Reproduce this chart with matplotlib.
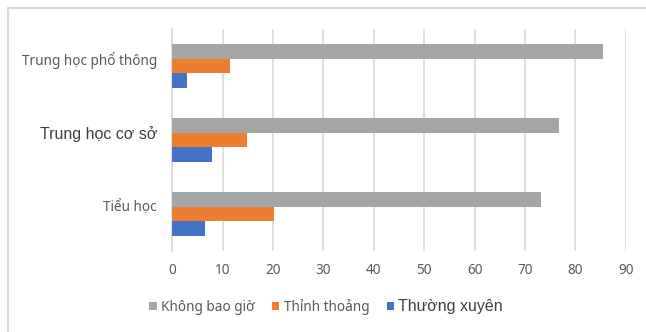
import numpy as np
import matplotlib
matplotlib.use("Agg")
import matplotlib.pyplot as plt
from matplotlib.patches import Rectangle

# data
categories = ["Tiểu học", "Trung học cơ sở", "Trung học phổ thông"]
series_names = ["Không bao giờ", "Thỉnh thoảng", "Thường xuyên"]
khong_bao_gio = [73.1, 76.7, 85.4]
thinh_thoang = [20.2, 14.9, 11.4]
thuong_xuyen = [6.4, 7.9, 3.0]
xticks = list(range(0, 100, 10))

colors = ["#A5A5A5", "#ED7D31", "#4472C4"]
text_color = "#595959"
base_font = ["Noto Sans", "DejaVu Sans"]
arial_font = ["Liberation Sans", "DejaVu Sans"]

fig = plt.figure(figsize=(6.46, 3.32), dpi=100)
ax = fig.add_axes([0.2667, 0.244, 0.7019, 0.6687])

# chart border (partially cut off on right / bottom)
fig.patches.append(Rectangle((8 / 646, -0.1), 1.2, 1 - 7.5 / 332 + 0.1,
                             transform=fig.transFigure, fill=False,
                             edgecolor="#D9D9D9", linewidth=1.5))

y = np.arange(len(categories))
h = 0.2
ax.barh(y + h, khong_bao_gio, height=h, color=colors[0], label=series_names[0], zorder=3)
ax.barh(y, thinh_thoang, height=h, color=colors[1], label=series_names[1], zorder=3)
ax.barh(y - h, thuong_xuyen, height=h, color=colors[2], label=series_names[2], zorder=3)

ax.set_xlim(0, 90)
ax.set_ylim(-0.5, 2.5)
ax.set_xticks(xticks)
ax.set_xticklabels([str(t) for t in xticks], fontsize=9.8, color=text_color,
                   family=base_font)
ax.set_yticks(y + h / 2)
ax.set_yticklabels(categories, color=text_color, family=base_font, fontsize=9.8)
ax.get_yticklabels()[1].set_family(arial_font)
ax.get_yticklabels()[1].set_fontsize(11.5)
ax.get_yticklabels()[1].set_color("#404040")
ax.tick_params(axis="both", length=0)
ax.tick_params(axis="x", pad=9)
ax.tick_params(axis="y", pad=11)

ax.grid(axis="x", color="#D9D9D9", linewidth=1.2, zorder=0)
for s in ["top", "right", "bottom"]:
    ax.spines[s].set_visible(False)
ax.spines["left"].set_color("#D9D9D9")
ax.spines["left"].set_linewidth(1.2)

leg = fig.legend(loc="center", bbox_to_anchor=(0.505, 1 - 307 / 332), ncol=3,
                 frameon=False, prop={"family": base_font, "size": 9.8},
                 handlelength=0.55, handleheight=0.55, handletextpad=0.3,
                 columnspacing=1.3)
for t in leg.get_texts():
    t.set_color(text_color)
leg.get_texts()[2].set_family(arial_font)
leg.get_texts()[2].set_fontsize(11.5)
leg.get_texts()[2].set_color("#404040")

fig.savefig("out.png", dpi=100)
